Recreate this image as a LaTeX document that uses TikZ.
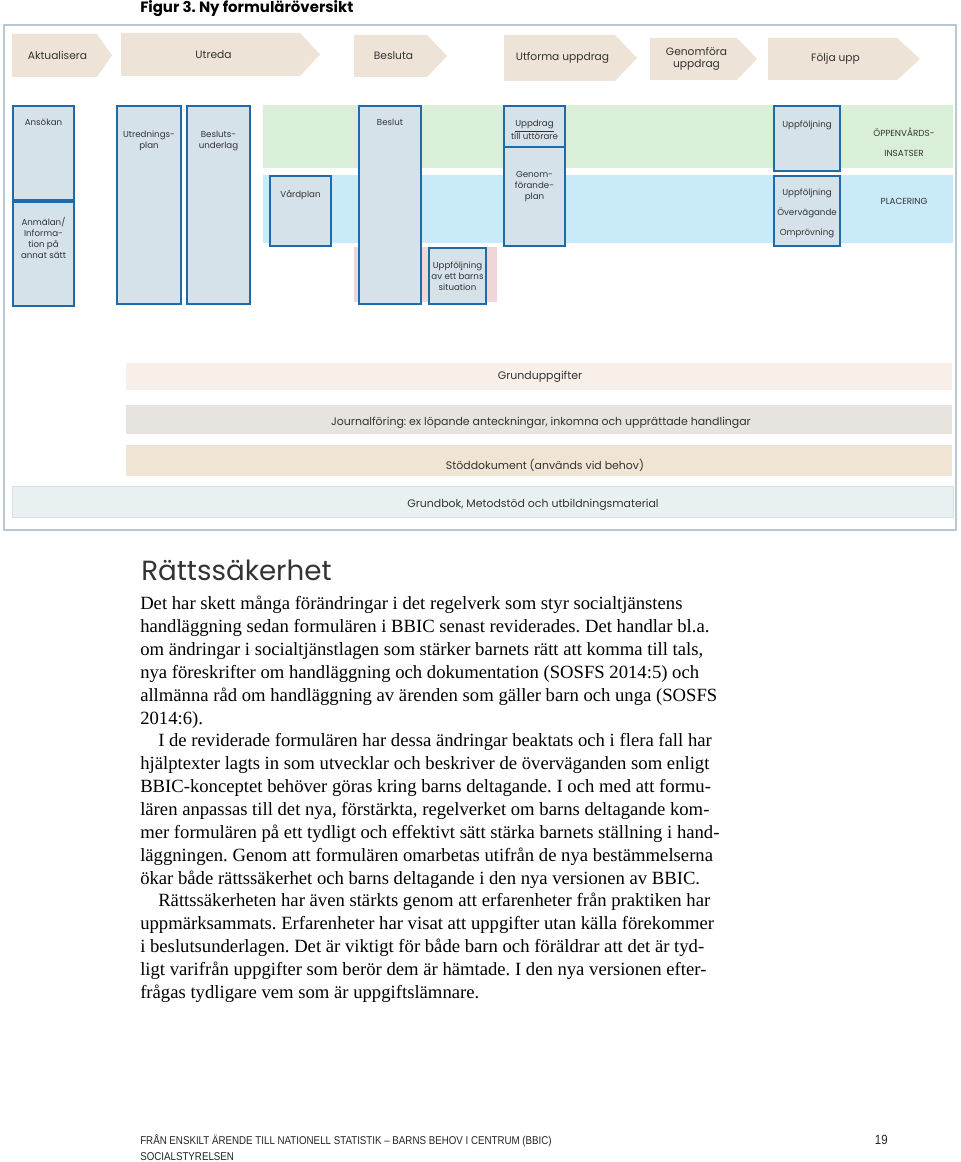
\documentclass[tikz,border=0pt]{standalone}
\usepackage{fontspec}
\setmainfont{Liberation Serif}
\newfontfamily\gfont{Poppins}
\newfontfamily\footfont[FakeStretch=0.86]{Liberation Sans}
\definecolor{chevc}{HTML}{EDE3D6}
\definecolor{greenband}{HTML}{DAEFD7}
\definecolor{blueband}{HTML}{C9EAF8}
\definecolor{pinkband}{HTML}{F0D6D6}
\definecolor{boxc}{HTML}{D6E2EA}
\definecolor{boxline}{HTML}{1F6AA8}
\definecolor{framec}{HTML}{B8C8D4}
\definecolor{bar1}{HTML}{F8EFE8}
\definecolor{bar2}{HTML}{E7E3DF}
\definecolor{bar3}{HTML}{F0E4D5}
\definecolor{bar4}{HTML}{E9F0F2}
\definecolor{bar4line}{HTML}{D3E4DA}
\definecolor{gtext}{HTML}{333333}
\newcommand\mychev[7]{%
  \fill[chev] (#2,#3) -- (#4,#3) -- (#5,{(#3+#6)/2}) -- (#4,#6) -- (#2,#6) -- cycle;
  \node[chevtext] (#1) at ({(#2+#4)/2+3},{(#3+#6)/2}) {#7};}
\begin{document}
\frenchspacing
\begin{tikzpicture}[x=0.75pt,y=-0.75pt,
  chev/.style={fill=chevc},
  chevtext/.style={font=\gfont\fontsize{8}{9.5}\selectfont, text=gtext, align=center, inner sep=0pt},
  docbox/.style={fill=boxc, draw=boxline, line width=1.6pt},
  boxtext/.style={font=\gfont\fontsize{6.5}{8.25}\selectfont, text=gtext, align=center, inner sep=0pt},
  bandtext/.style={font=\gfont\fontsize{6.6}{15}\selectfont, text=gtext, align=center, inner sep=0pt},
  bartext/.style={font=\gfont\fontsize{8.2}{10}\selectfont, text=gtext, inner sep=0pt},
  body/.style={font=\fontsize{14}{17}\selectfont, anchor=base west, inner sep=0pt},
  foot/.style={font=\footfont\fontsize{8.5}{10}\selectfont, anchor=base west, inner sep=0pt, text=black!85}]
\useasboundingbox (0,0) rectangle (960,1162);
\fill[white] (0,0) rectangle (960,1162);

% title
\node[anchor=base west, inner sep=0pt, font=\gfont\bfseries\fontsize{11.2}{13}\selectfont] (title) at (140,13) {Figur 3. Ny formuläröversikt};

% frame
\draw[framec, line width=1pt] (4,25) rectangle (956,530);

% chevrons
\mychev{c1}{12}{34}{97}{112}{77}{Aktualisera}
\mychev{c2}{121}{33}{300}{320}{76}{Utreda}
\mychev{c3}{354}{35}{427}{447}{77}{Besluta}
\mychev{c4}{504}{35}{615}{637}{81}{Utforma uppdrag}
\mychev{c5}{650}{38}{737}{757}{80}{Genomföra\\uppdrag}
\mychev{c6}{768}{38}{897}{920}{80}{Följa upp}

% bands
\fill[greenband] (263,105) rectangle (953,168);
\fill[blueband] (263,175) rectangle (953,243);
\fill[pinkband] (354,247) rectangle (497,302);

% document boxes
\draw[docbox] (13,106) rectangle (74,200);
\node[boxtext] (t1) at (43.5,122) {Ansökan};
\draw[docbox] (13,202) rectangle (74,306);
\node[boxtext] (t2) at (43.5,238) {Anmälan/\\Informa-\\tion på\\annat sätt};
\draw[docbox] (117,106) rectangle (181,304);
\node[boxtext] (t3) at (149,141) {Utrednings-\\plan};
\draw[docbox] (187,106) rectangle (250,304);
\node[boxtext] (t4) at (218.5,141) {Besluts-\\underlag};
\draw[docbox] (270,176) rectangle (331,246);
\node[boxtext] (t5) at (300.5,195) {Vårdplan};
\draw[docbox] (359,106) rectangle (421,304);
\node[boxtext] (t6) at (390,122) {Beslut};
\draw[docbox] (429,248) rectangle (486,304);
\node[boxtext] (t7) at (457.5,276) {Uppföljning\\av ett barns\\situation};
\draw[docbox] (504,106) rectangle (565,147);
\node[boxtext] (t8) at (534.5,130) {\underline{Uppdrag}\\till uttörare};
\draw[docbox] (504,147) rectangle (565,246);
\node[boxtext] (t9) at (534.5,187) {Genom-\\förande-\\plan};
\draw[docbox] (774,106) rectangle (840,171);
\node[boxtext] (t10) at (807,125) {Uppföljning};
\draw[docbox] (774,176) rectangle (840,246);
\node[boxtext, font=\gfont\fontsize{6.5}{15}\selectfont] (t11) at (807,213) {Uppföljning\\Övervägande\\Omprövning};

\node[bandtext] (b1) at (904,142) {ÖPPENVÅRDS-\\INSATSER};
\node[bandtext] (b2) at (904,201) {PLACERING};

% bottom bars
\fill[bar1] (126,363) rectangle (952,390);
\node[bartext] (g1) at (540,377) {Grunduppgifter};
\fill[bar2] (126,405) rectangle (952,434);
\node[bartext] (g2) at (541,423) {Journalföring: ex löpande anteckningar, inkomna och upprättade handlingar};
\fill[bar3] (126,445) rectangle (952,476);
\node[bartext] (g3) at (545,465) {Stöddokument (används vid behov)};
\filldraw[fill=bar4, draw=bar4line, line width=0.6pt] (12,486) rectangle (953,517);
\node[bartext] (g4) at (533,505) {Grundbok, Metodstöd och utbildningsmaterial};

% heading
\node[anchor=base west, inner sep=0pt, font=\gfont\fontsize{20.8}{24}\selectfont, text=black!80] (h) at (141,580) {Rättssäkerhet};

% body text
\node[body] (l1) at (140,609) {Det har skett många förändringar i det regelverk som styr socialtjänstens};
\node[body] (l2) at (140,632) {handläggning sedan formulären i BBIC senast reviderades. Det handlar bl.a.};
\node[body] (l3) at (140,655) {om ändringar i socialtjänstlagen som stärker barnets rätt att komma till tals,};
\node[body] (l4) at (140,678) {nya föreskrifter om handläggning och dokumentation (SOSFS 2014:5) och};
\node[body] (l5) at (140,701) {allmänna råd om handläggning av ärenden som gäller barn och unga (SOSFS};
\node[body] (l6) at (140,724) {2014:6).};
\node[body] (l7) at (158,746) {I de reviderade formulären har dessa ändringar beaktats och i flera fall har};
\node[body] (l8) at (140,769) {hjälptexter lagts in som utvecklar och beskriver de överväganden som enligt};
\node[body] (l9) at (140,792) {BBIC-konceptet behöver göras kring barns deltagande. I och med att formu-};
\node[body] (l10) at (140,815) {lären anpassas till det nya, förstärkta, regelverket om barns deltagande kom-};
\node[body] (l11) at (140,838) {mer formulären på ett tydligt och effektivt sätt stärka barnets ställning i hand-};
\node[body] (l12) at (140,861) {läggningen. Genom att formulären omarbetas utifrån de nya bestämmelserna};
\node[body] (l13) at (140,884) {ökar både rättssäkerhet och barns deltagande i den nya versionen av BBIC.};
\node[body] (l14) at (158,906) {Rättssäkerheten har även stärkts genom att erfarenheter från praktiken har};
\node[body] (l15) at (140,929) {uppmärksammats. Erfarenheter har visat att uppgifter utan källa förekommer};
\node[body] (l16) at (140,952) {i beslutsunderlagen. Det är viktigt för både barn och föräldrar att det är tyd-};
\node[body] (l17) at (140,975) {ligt varifrån uppgifter som berör dem är hämtade. I den nya versionen efter-};
\node[body] (l18) at (140,998) {frågas tydligare vem som är uppgiftslämnare.};

% footer
\node[foot] (f1) at (140,1144) {FRÅN ENSKILT ÄRENDE TILL NATIONELL STATISTIK – BARNS BEHOV I CENTRUM (BBIC)};
\node[foot] (f2) at (140,1160) {SOCIALSTYRELSEN};
\node[foot, anchor=base east, font=\footfont\fontsize{10}{12}\selectfont] (f3) at (888,1144) {19};
\end{tikzpicture}
\end{document}
